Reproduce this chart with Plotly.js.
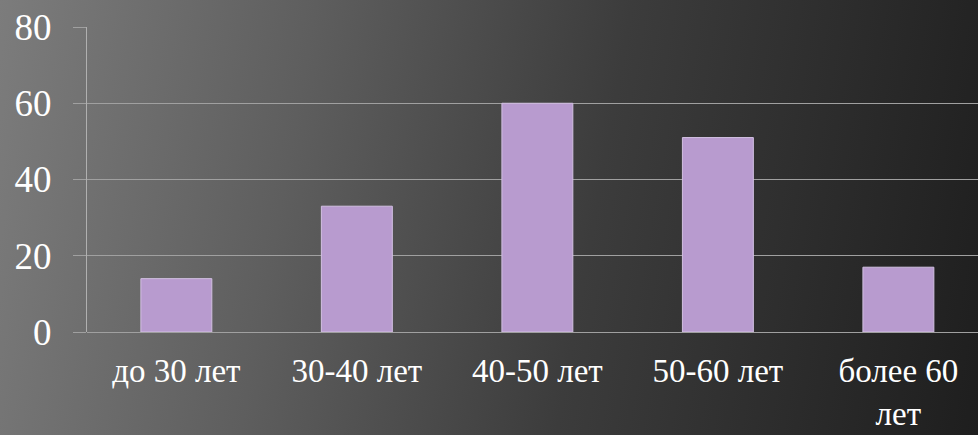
<!DOCTYPE html>
<html>
<head>
<meta charset="utf-8">
<script src="https://cdn.plot.ly/plotly-3.0.1.min.js"></script>
<style>
  html, body { margin: 0; padding: 0; width: 978px; height: 435px; overflow: hidden; }
  body { background: linear-gradient(100deg, #7c7c7c 0%, #5e5e5e 30%, #3c3c3c 60%, #1e1e1e 100%); }
  #chart { width: 978px; height: 435px; }
</style>
</head>
<body>
<div id="chart"></div>
<script>
const categories = ["до 30 лет", "30-40 лет", "40-50 лет", "50-60 лет", "более 60<br>лет"];
const values = [14, 33, 60, 51, 17];
const yTicks = [0, 20, 40, 60, 80];

const FONT = "Liberation Serif, Times New Roman, serif";

const trace = {
  type: "bar",
  x: categories,
  y: values,
  marker: { color: "#b89bcf", line: { color: "#d2c0e2", width: 1 } },
  hoverinfo: "x+y"
};

const layout = {
  width: 978, height: 435,
  margin: { l: 87, r: 0, t: 27, b: 103 },
  paper_bgcolor: "rgba(0,0,0,0)",
  plot_bgcolor: "rgba(0,0,0,0)",
  bargap: 0.607,
  showlegend: false,
  font: { family: FONT, color: "#ffffff" },
  xaxis: {
    type: "category",
    range: [-0.495, 4.441],
    showgrid: false,
    showline: false,
    zeroline: false,
    ticks: "",
    tickfont: { family: FONT, size: 33, color: "#ffffff" },
    ticklabelstandoff: 16
  },
  yaxis: {
    range: [0, 80],
    tickvals: yTicks,
    ticktext: yTicks.map(String),
    showgrid: true,
    gridcolor: "#a0a0a0",
    gridwidth: 1,
    zeroline: true,
    zerolinecolor: "#a0a0a0",
    zerolinewidth: 1,
    showline: true,
    linecolor: "#b0b0b0",
    linewidth: 1,
    ticks: "outside",
    ticklen: 13,
    tickcolor: "#a0a0a0",
    tickfont: { family: FONT, size: 37, color: "#ffffff" },
    ticklabelstandoff: 14
  }
};

Plotly.newPlot("chart", [trace], layout, { displayModeBar: false, staticPlot: true });
</script>
</body>
</html>
